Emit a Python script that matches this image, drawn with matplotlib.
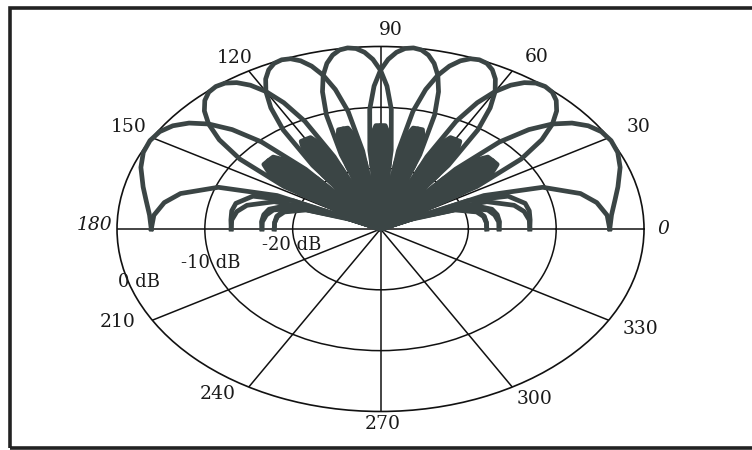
import numpy as np
import matplotlib.pyplot as plt
from matplotlib.patches import Rectangle

angles_deg = [0, 5, 10, 14.36, 20.36, 25.02, 28.96, 32.48, 35.66, 38.62,
              41.41, 44.05, 46.57, 48.99, 51.32, 53.58, 55.77, 57.91, 60, 62.05,
              64.06, 66.03, 67.98, 69.89, 71.79, 73.67, 75.52, 77.36, 79.19, 81.01,
              82.82, 84.62, 86.42, 88.21, 90, 91.79, 93.58, 95.38, 97.18, 98.99,
              100.81, 102.64, 104.48, 106.33, 108.21, 110.11, 112.02, 113.97, 115.94, 117.95,
              120, 122.09, 124.23, 126.42, 128.68, 131.01, 133.43, 135.95, 138.59, 141.38,
              144.34, 147.52, 151.04, 154.98, 159.64, 165.64, 170, 175, 180]

# beam levels (dB) for the four beams of the right half;
# the left half beams are the mirror images (180 - angle)
beam_29 = [-3.9, -3.6, -2.9, -2.1, -0.9, -0.2, 0.0, -0.2, -0.9, -2.1,
           -3.9, -6.5, -10.3, -17.0, -30, -19.0, -14.5, -13.0, -13.0, -14.3,
           -17.1, -23.0, -30, -23.8, -18.8, -16.9, -16.5, -17.4, -20.0, -25.5,
           -30, -25.9, -20.7, -18.5, -17.9, -18.7, -21.0, -26.4, -30, -26.4,
           -21.0, -18.7, -17.9, -18.5, -20.7, -25.9, -30, -25.5, -20.0, -17.4,
           -16.5, -16.9, -18.8, -23.8, -30, -23.0, -17.1, -14.3, -13.0, -13.0,
           -14.5, -19.0, -30, -17.0, -10.3, -6.5, -5.0, -4.1, -3.9]
beam_51 = [-13.0, -12.9, -12.8, -13.0, -14.5, -19.0, -30, -17.0, -10.3, -6.5,
           -3.9, -2.1, -0.9, -0.2, 0.0, -0.2, -0.9, -2.1, -3.9, -6.5,
           -10.3, -17.0, -30, -19.0, -14.5, -13.0, -13.0, -14.3, -17.1, -23.0,
           -30, -23.8, -18.8, -16.9, -16.5, -17.4, -20.0, -25.5, -30, -25.9,
           -20.7, -18.5, -17.9, -18.7, -21.0, -26.4, -30, -26.4, -21.0, -18.7,
           -17.9, -18.5, -20.7, -25.9, -30, -25.5, -20.0, -17.4, -16.5, -16.9,
           -18.8, -23.8, -30, -23.0, -17.1, -14.3, -13.4, -13.0, -13.0]
beam_68 = [-16.5, -16.4, -16.5, -16.9, -18.8, -23.8, -30, -23.0, -17.1, -14.3,
           -13.0, -13.0, -14.5, -19.0, -30, -17.0, -10.3, -6.5, -3.9, -2.1,
           -0.9, -0.2, 0.0, -0.2, -0.9, -2.1, -3.9, -6.5, -10.3, -17.0,
           -30, -19.0, -14.5, -13.0, -13.0, -14.3, -17.1, -23.0, -30, -23.8,
           -18.8, -16.9, -16.5, -17.4, -20.0, -25.5, -30, -25.9, -20.7, -18.5,
           -17.9, -18.7, -21.0, -26.4, -30, -26.4, -21.0, -18.7, -17.9, -18.5,
           -20.7, -25.9, -30, -25.5, -20.0, -17.4, -16.8, -16.5, -16.5]
beam_83 = [-17.9, -17.9, -18.0, -18.5, -20.7, -25.9, -30, -25.5, -20.0, -17.4,
           -16.5, -16.9, -18.8, -23.8, -30, -23.0, -17.1, -14.3, -13.0, -13.0,
           -14.5, -19.0, -30, -17.0, -10.3, -6.5, -3.9, -2.1, -0.9, -0.2,
           0.0, -0.2, -0.9, -2.1, -3.9, -6.5, -10.3, -17.0, -30, -19.0,
           -14.5, -13.0, -13.0, -14.3, -17.1, -23.0, -30, -23.8, -18.8, -16.9,
           -16.5, -17.4, -20.0, -25.5, -30, -25.9, -20.7, -18.5, -17.9, -18.7,
           -21.0, -26.4, -30, -26.4, -21.0, -18.7, -18.1, -17.9, -17.9]

theta_ticks = [0, 30, 60, 90, 120, 150, 180, 210, 240, 270, 300, 330]
theta_labels = ['0', '30', '60', '90', '120', '150', '180', '210', '240', '270', '300', '330']
ring_levels = [-20, -10]
ring_labels = ['-20 dB', '-10 dB', '0 dB']
ring_label_pos = [(194.6, -19.6), (196.1, -9.9), (197.6, -1.1)]
label_offsets = [(19, 0), (30, 11), (24, 14), (10, 16), (-14, 13), (-24, 11),
                 (-23, 4), (-35, -2), (-31, -7), (2, -13), (22, -12), (32, -9)]

LINE = '#3b4545'
FONT = 'DejaVu Serif'


def sidelobe_levels(theta, levels, lo=25, hi=155):
    """
    Keep only the weak side lobes (between two nulls, below -10 dB)
    that lie inside [lo, hi] degrees; everything else goes to the floor.
    """
    out = np.full_like(levels, -30.0)
    nulls = np.where(levels <= -30)[0]
    edges = np.concatenate(([0], nulls, [len(levels) - 1]))
    for a, b in zip(edges[:-1], edges[1:]):
        seg = slice(a, b + 1)
        mid = 0.5 * (theta[a] + theta[b])
        if levels[seg].max() < -10 and lo <= mid <= hi:
            out[seg] = levels[seg]
    return np.maximum(out, -30)


def draw_pattern(output_file):
    fig = plt.figure(figsize=(7.52, 4.5), dpi=100)
    fig.patch.set_facecolor('white')

    ax = fig.add_axes([0.1556, 0.0856, 0.7008, 0.8111], projection='polar')
    ax.set_aspect('auto')
    ax.set_facecolor('none')
    ax.set_rlim(-30, 0)

    # grid: rings every 10 dB, spokes every 30 deg
    ax.set_thetagrids(theta_ticks, [''] * len(theta_ticks))
    ax.set_rgrids(ring_levels, [''] * len(ring_levels))
    ax.grid(True, color='#111111', lw=1.1, ls='-')
    ax.spines['polar'].set_color('#111111')
    ax.spines['polar'].set_linewidth(1.2)
    ax.tick_params(length=0)

    theta = np.array(angles_deg)
    # beams of the right half and their mirror images
    for levels in [beam_29, beam_51, beam_68, beam_83]:
        r = np.maximum(np.array(levels, dtype=float), -30)
        for th in (theta, 180 - theta):
            ax.plot(np.deg2rad(th), r, color=LINE, lw=3.4,
                    solid_joinstyle='round', clip_on=False, zorder=3)
            ax.fill(np.deg2rad(th), sidelobe_levels(th, r), color=LINE,
                    lw=0, zorder=2)

    # angle labels
    for ang, lab, (dx, dy) in zip(theta_ticks, theta_labels, label_offsets):
        style = 'italic' if ang in (0, 180) else 'normal'
        ax.annotate(lab, xy=(np.deg2rad(ang), 0), xytext=(dx, dy),
                    textcoords='offset pixels', ha='center', va='center',
                    fontsize=13.5, family=FONT, style=style, color='#1a1a1a',
                    annotation_clip=False)

    # ring labels
    for lab, (ang, lev) in zip(ring_labels, ring_label_pos):
        ax.text(np.deg2rad(ang), lev, lab, ha='center', va='center',
                fontsize=13, family=FONT, color='#1a1a1a', zorder=4)

    # scanned frame
    fig.add_artist(Rectangle((10 / 752, 1 - 447.5 / 450), 760 / 752, 440 / 450,
                             transform=fig.transFigure, fill=False,
                             lw=2.6, ec='#222222'))

    fig.savefig(output_file, dpi=100)
    plt.close(fig)


if __name__ == "__main__":
    draw_pattern('out.png')
